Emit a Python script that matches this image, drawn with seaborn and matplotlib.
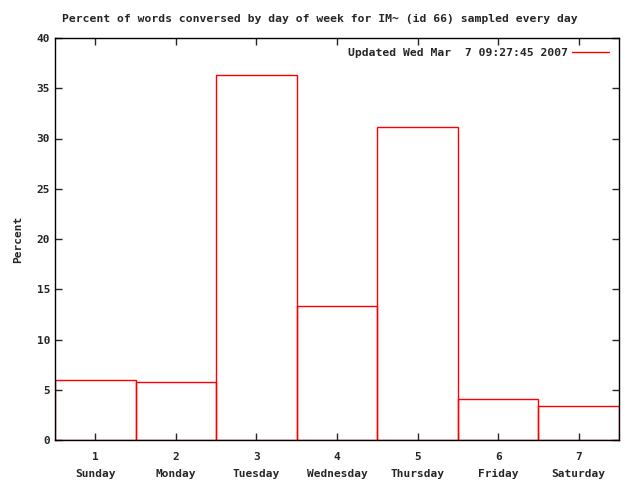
import matplotlib
matplotlib.use("Agg")
import matplotlib.pyplot as plt
import seaborn as sns
import pandas as pd
from matplotlib.lines import Line2D

# data
day_num = [1, 2, 3, 4, 5, 6, 7]
day_names = ["Sunday", "Monday", "Tuesday", "Wednesday", "Thursday", "Friday", "Saturday"]
percent = [6.0, 5.8, 36.3, 13.3, 31.1, 4.1, 3.4]
legend_text = "Updated Wed Mar  7 09:27:45 2007"
title = "Percent of words conversed by day of week for IM~ (id 66) sampled every day"

sns.set_style("ticks")
plt.rcParams['font.family'] = ['DejaVu Sans Mono', 'DejaVu Sans']
plt.rcParams['font.size'] = 8
plt.rcParams['font.weight'] = 'bold'

df = pd.DataFrame({"day": day_num, "pct": percent})

fig = plt.figure(figsize=(6.4, 4.8), dpi=100)
ax = fig.add_axes([55/640, 40/480, (619-55)/640, (440-38)/480])

sns.barplot(data=df, x="day", y="pct", ax=ax, fill=False, width=1.0,
            color="red", edgecolor="red", linewidth=1, errorbar=None)
for p in ax.patches:
    p.set_edgecolor("red")
    p.set_facecolor("none")

ax.set_xlim(-0.5, 6.5)
ax.set_ylim(0, 40)
ax.set_yticks(range(0, 41, 5))
ax.set_xticks(range(7))
ax.set_xticklabels([f"{n}\n{d}" for n, d in zip(day_num, day_names)], linespacing=1.8)
ax.tick_params(direction="in", top=True, right=True, length=5, width=1, labelsize=8)
ax.tick_params(axis="x", pad=9)
for s in ax.spines.values():
    s.set_visible(True)
    s.set_linewidth(1)
    s.set_color("black")

ax.set_xlabel("")
ax.set_ylabel("Percent", fontsize=8, fontweight="bold", labelpad=10)
fig.suptitle(title, x=0.5, y=0.97, fontsize=8.2, fontweight="bold")

handle = Line2D([0], [0], color="red", linewidth=1)
ax.legend([handle], [legend_text], loc="upper right", frameon=False,
          markerfirst=False, handlelength=3.2, handletextpad=0.4,
          fontsize=8.2, borderaxespad=0.5)

fig.savefig("out.png", dpi=100)
